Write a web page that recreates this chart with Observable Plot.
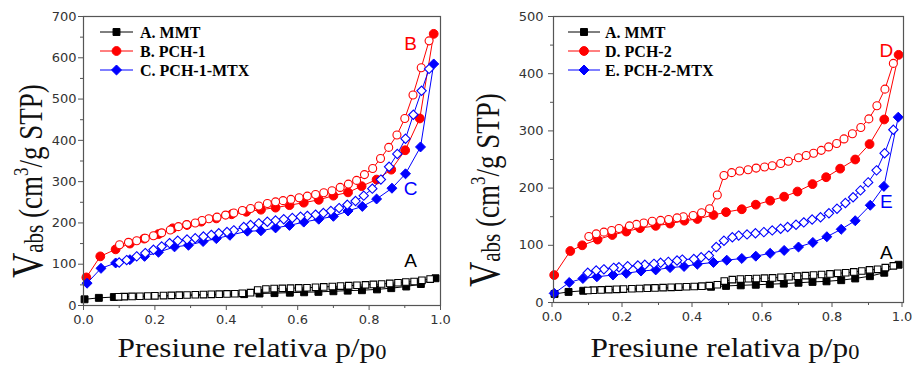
<!DOCTYPE html>
<html><head><meta charset="utf-8">
<script src="https://cdn.jsdelivr.net/npm/d3@7"></script>
<script src="https://cdn.jsdelivr.net/npm/@observablehq/plot@0.6"></script>
<style>
body{margin:0;background:#fff;}
#wrap{display:flex;width:912px;height:368px;overflow:hidden;}
#wrap svg{flex:none;}
</style></head><body><div id="wrap"></div>
<script>
// ---------- tick values ----------
const xMajorTicks = [0, 0.2, 0.4, 0.6, 0.8, 1.0];
const xMinorTicks = [0.1, 0.3, 0.5, 0.7, 0.9];
const yMajorTicksL = [0, 100, 200, 300, 400, 500, 600, 700];
const yMinorTicksL = [50, 150, 250, 350, 450, 550, 650];
const yMajorTicksR = [0, 100, 200, 300, 400, 500];
const yMinorTicksR = [50, 150, 250, 350, 450];

// ---------- A. MMT (both panels) ----------
const mmtAdsX = [0.003, 0.043, 0.085, 0.45, 0.493, 0.535, 0.578, 0.618, 0.658, 0.70, 0.74, 0.78, 0.822, 0.862, 0.904, 0.945, 0.986];
const mmtAdsY = [15, 18.5, 20.5, 27.5, 29, 30, 31, 32, 33, 34.5, 36, 37, 39, 42, 46, 52, 66];
const mmtDesX = [0.971, 0.948, 0.926, 0.903, 0.881, 0.858, 0.835, 0.812, 0.79, 0.766, 0.743, 0.72, 0.697, 0.673, 0.65, 0.626, 0.603, 0.58, 0.557, 0.534, 0.511, 0.488, 0.468, 0.445, 0.424, 0.402, 0.38, 0.358, 0.336, 0.313, 0.29, 0.268, 0.246, 0.224, 0.2, 0.18, 0.158, 0.136, 0.114, 0.098];
const mmtDesY = [64, 61, 58, 57, 55, 53.5, 52, 51, 50, 49, 48, 47, 46, 45, 44, 43, 42.5, 42, 41.5, 41, 40, 37.5, 31, 29.5, 28.5, 28, 27.5, 27, 26.5, 26, 25.5, 25, 24.5, 24, 23.5, 23, 22.5, 22, 21.5, 21];

// ---------- B. PCH-1 ----------
const bAdsX = [0.008, 0.047, 0.09, 0.13, 0.17, 0.21, 0.25, 0.29, 0.33, 0.372, 0.415, 0.456, 0.497, 0.538, 0.577, 0.617, 0.659, 0.70, 0.741, 0.779, 0.821, 0.862, 0.901, 0.942, 0.981];
const bAdsY = [68, 119, 136, 150, 162, 173, 187, 195, 203, 211, 221, 227, 232, 237, 243, 249, 256, 266, 274, 289, 305, 329, 376, 453, 658];
const bDesX = [0.968, 0.946, 0.923, 0.900, 0.878, 0.855, 0.832, 0.810, 0.787, 0.765, 0.742, 0.719, 0.696, 0.673, 0.650, 0.627, 0.604, 0.581, 0.559, 0.538, 0.515, 0.491, 0.468, 0.445, 0.421, 0.398, 0.374, 0.351, 0.332, 0.313, 0.289, 0.266, 0.243, 0.219, 0.196, 0.173, 0.149, 0.126, 0.101];
const bDesY = [641, 576, 510, 453, 413, 383, 356, 332, 317, 303, 294, 286, 278, 273, 269, 265, 261, 257, 254, 251, 247, 241, 235, 230, 224, 219, 214, 210, 206, 200, 196, 191, 183, 176, 169, 163, 157, 153, 147];

// ---------- C. PCH-1-MTX ----------
const cAdsX = [0.01, 0.049, 0.09, 0.13, 0.171, 0.21, 0.255, 0.294, 0.335, 0.372, 0.41, 0.459, 0.497, 0.538, 0.577, 0.617, 0.659, 0.70, 0.741, 0.781, 0.821, 0.864, 0.902, 0.944, 0.981];
const cAdsY = [54, 90, 103, 111, 119, 129, 142, 146, 155, 162, 170, 180, 181, 188, 194, 202, 209, 216, 229, 240, 258, 284, 319, 384, 585];
const cDesX = [0.968, 0.947, 0.924, 0.902, 0.879, 0.856, 0.833, 0.809, 0.785, 0.762, 0.739, 0.716, 0.693, 0.672, 0.65, 0.627, 0.608, 0.585, 0.561, 0.538, 0.515, 0.491, 0.468, 0.449, 0.421, 0.402, 0.379, 0.358, 0.336, 0.313, 0.29, 0.264, 0.241, 0.219, 0.196, 0.173, 0.149, 0.121, 0.1];
const cDesY = [573, 520, 462, 404, 367, 336, 305, 283, 266, 253, 244, 236, 229, 224, 220, 217, 215, 212, 209, 206, 203, 199, 195, 190, 182, 178, 175, 171, 167, 163, 160, 157, 151, 143, 135, 127, 119, 110, 104];

// ---------- D. PCH-2 ----------
const dAdsX = [0.002, 0.048, 0.082, 0.126, 0.168, 0.208, 0.247, 0.292, 0.333, 0.374, 0.411, 0.457, 0.493, 0.538, 0.578, 0.619, 0.659, 0.697, 0.74, 0.779, 0.819, 0.862, 0.903, 0.945, 0.986];
const dAdsY = [48, 90, 100, 110, 118, 124, 130, 134, 138, 143, 146, 153, 158, 163, 171, 178, 185, 194, 207, 219, 234, 250, 277, 320, 433];
const dDesX = [0.971, 0.947, 0.924, 0.901, 0.878, 0.854, 0.83, 0.809, 0.786, 0.765, 0.743, 0.722, 0.7, 0.671, 0.649, 0.625, 0.603, 0.579, 0.556, 0.532, 0.509, 0.487, 0.468, 0.446, 0.423, 0.399, 0.371, 0.353, 0.329, 0.306, 0.282, 0.258, 0.237, 0.217, 0.187, 0.166, 0.144, 0.122, 0.101];
const dDesY = [418, 373, 344, 321, 306, 295, 286, 278, 272, 266, 261, 257, 253, 247, 243, 239, 237, 235, 232, 230, 227, 222, 188, 164, 157, 152, 150, 148, 145, 143.5, 142, 139, 136.5, 134, 129.5, 126, 123, 120, 115.5];

// ---------- E. PCH-2-MTX ----------
const eAdsX = [0.002, 0.045, 0.084, 0.124, 0.17, 0.208, 0.25, 0.292, 0.333, 0.373, 0.411, 0.457, 0.495, 0.538, 0.578, 0.619, 0.659, 0.7, 0.741, 0.781, 0.822, 0.862, 0.905, 0.944, 0.985];
const eAdsY = [16, 35, 42, 45, 48, 51, 55, 57, 61, 63, 67, 70, 74, 77, 81, 86, 91, 97, 105, 115, 128, 143, 170, 203, 324];
const eDesX = [0.971, 0.946, 0.923, 0.899, 0.877, 0.856, 0.834, 0.81, 0.787, 0.763, 0.739, 0.715, 0.693, 0.669, 0.649, 0.625, 0.601, 0.577, 0.553, 0.529, 0.511, 0.487, 0.465, 0.444, 0.422, 0.401, 0.368, 0.353, 0.328, 0.306, 0.287, 0.261, 0.241, 0.212, 0.187, 0.172, 0.144, 0.122, 0.098];
const eDesY = [302, 261, 231, 210, 196, 184, 174, 164, 156, 149, 145, 140, 136, 132, 129, 126, 123, 121, 119, 117, 114, 108, 97, 82, 79, 76, 75, 73.4, 71, 69.4, 67.6, 66, 64.7, 63.5, 61.7, 60.6, 58, 56, 52];

// ---------- legend / annotation text ----------
const legendLabelsL = ["A. MMT", "B. PCH-1", "C. PCH-1-MTX"];
const legendLabelsR = ["A. MMT", "D. PCH-2", "E. PCH-2-MTX"];
const annotTextL = ["B", "C", "A"];
const annotXL = [0.916, 0.916, 0.916];
const annotYL = [634, 283, 109];
const annotTextR = ["D", "E", "A"];
const annotXR = [0.951, 0.951, 0.951];
const annotYR = [440, 175, 87];
const xTitle = "Presiune relativa p/p";

const RED = "#ff0000", BLUE = "#0000ff", BLACK = "#000000";
const mk = (xs, ys) => xs.map((x, i) => ({x, y: ys[i]}));

const symInfo = {
  square: {fill: 3.9, open: 3.7},
  circle: {fill: 4.4, open: 4.0},
  diamond2: {fill: 4.5, open: 4.2}
};

function seriesMarks(adsX, adsY, desX, desY, color, sym) {
  const ads = mk(adsX, adsY), des = mk(desX, desY);
  return [
    Plot.line(ads, {x: "x", y: "y", stroke: color, strokeWidth: 1}),
    Plot.line(des, {x: "x", y: "y", stroke: color, strokeWidth: 1}),
    Plot.dot(ads, {x: "x", y: "y", symbol: sym, r: symInfo[sym].fill, fill: color, stroke: color, strokeWidth: 1}),
    Plot.dot(des, {x: "x", y: "y", symbol: sym, r: symInfo[sym].open, fill: "white", stroke: color, strokeWidth: 1.1})
  ];
}

function annotMarks(texts, xs, ys, colors) {
  return texts.map((t, i) => Plot.text([{x: xs[i], y: ys[i], t}], {
    x: "x", y: "y", text: "t", fill: colors[i], fontSize: 19,
    fontFamily: "Liberation Sans, Arial, sans-serif"
  }));
}

function makePanel(cfg) {
  const plot = Plot.plot({
    width: 456, height: 368,
    marginLeft: cfg.ml, marginRight: cfg.mr, marginTop: 16, marginBottom: cfg.mb,
    x: {domain: [0, 1]},
    y: {domain: [0, cfg.ymax]},
    style: {background: "white", color: "#333", fontFamily: "DejaVu Sans, sans-serif", fontSize: "13px", overflow: "visible"},
    marks: [
      Plot.axisX({ticks: xMajorTicks, tickFormat: d3.format(".1f"), tickSize: 5, tickPadding: 4, label: null, stroke: "#555", textStroke: "none", dx: cfg.xdx}),
      Plot.axisX({ticks: xMinorTicks, tickFormat: () => "", tickSize: 3, label: null, stroke: "#555"}),
      Plot.axisY({ticks: cfg.yMajor, tickSize: 5, tickPadding: cfg.tp, label: null, stroke: "#555"}),
      Plot.axisY({ticks: cfg.yMinor, tickFormat: () => "", tickSize: 3, label: null, stroke: "#555"}),
      ...cfg.series.flatMap(s => seriesMarks(...s)),
      ...annotMarks(cfg.annotText, cfg.annotX, cfg.annotY, cfg.annotColors),
      Plot.frame({stroke: "#555", strokeWidth: 1.2})
    ]
  });
  document.getElementById("wrap").appendChild(plot);
  const svg = d3.select(plot);

  // y title
  const yt = svg.append("text")
    .attr("transform", `translate(${cfg.ytx},${cfg.yty}) rotate(-90) scale(1,1.25)`)
    .attr("font-family", "Liberation Serif, 'Times New Roman', serif")
    .attr("fill", "#111").attr("text-anchor", "start");
  yt.append("tspan").attr("font-size", 35).text("V");
  yt.append("tspan").attr("font-size", 21).attr("dy", 1).text("abs");
  yt.append("tspan").attr("font-size", 27).attr("dy", -1).text(" (cm");
  yt.append("tspan").attr("font-size", 17).attr("dy", -11).text("3");
  yt.append("tspan").attr("font-size", 27).attr("dy", 11).text("/g STP)");

  // x title
  const xt = svg.append("text")
    .attr("transform", `translate(${cfg.xtx},357) scale(1.12,1)`)
    .attr("font-family", "Liberation Serif, 'Times New Roman', serif")
    .attr("fill", "#111").attr("text-anchor", "middle");
  xt.append("tspan").attr("font-size", 28).text(xTitle);
  xt.append("tspan").attr("font-size", 20).attr("dy", 2).text("0");

  // legend
  const lg = svg.append("g").attr("text-anchor", "start");
  cfg.legend.forEach((L, i) => {
    const cy = cfg.legY[i];
    lg.append("line").attr("x1", cfg.legX0).attr("x2", cfg.legX1).attr("y1", cy).attr("y2", cy)
      .attr("stroke", L.color).attr("stroke-width", 1);
    const sym = L.sym === "square" ? d3.symbolSquare : L.sym === "circle" ? d3.symbolCircle : d3.symbolDiamond2;
    const r = symInfo[L.sym].fill;
    lg.append("path").attr("d", d3.symbol(sym, Math.PI * r * r)())
      .attr("transform", `translate(${(cfg.legX0 + cfg.legX1) / 2},${cy})`)
      .attr("fill", L.color).attr("stroke", L.color);
    lg.append("text").attr("x", cfg.legTx).attr("y", cy + 5.5)
      .attr("text-anchor", "start")
      .attr("font-family", "Liberation Serif, 'Times New Roman', serif")
      .attr("font-weight", "bold").attr("font-size", 16).attr("fill", "#000")
      .text(L.label);
  });
}

makePanel({
  ml: 83, mr: 16, mb: 63, ymax: 700, tp: 2, xdx: 0,
  yMajor: yMajorTicksL, yMinor: yMinorTicksL,
  series: [
    [mmtAdsX, mmtAdsY, mmtDesX, mmtDesY, BLACK, "square"],
    [bAdsX, bAdsY, bDesX, bDesY, RED, "circle"],
    [cAdsX, cAdsY, cDesX, cDesY, BLUE, "diamond2"]
  ],
  annotText: annotTextL, annotX: annotXL, annotY: annotYL, annotColors: [RED, BLUE, BLACK],
  ytx: 42, yty: 278, xtx: 252,
  legend: [
    {label: legendLabelsL[0], color: BLACK, sym: "square"},
    {label: legendLabelsL[1], color: RED, sym: "circle"},
    {label: legendLabelsL[2], color: BLUE, sym: "diamond2"}
  ],
  legX0: 100, legX1: 133, legTx: 140, legY: [32, 51, 70]
});

makePanel({
  ml: 97, mr: 9, mb: 66, ymax: 500, tp: 5, xdx: -1.5,
  yMajor: yMajorTicksR, yMinor: yMinorTicksR,
  series: [
    [mmtAdsX, mmtAdsY, mmtDesX, mmtDesY, BLACK, "square"],
    [dAdsX, dAdsY, dDesX, dDesY, RED, "circle"],
    [eAdsX, eAdsY, eDesX, eDesY, BLUE, "diamond2"]
  ],
  annotText: annotTextR, annotX: annotXR, annotY: annotYR, annotColors: [RED, BLUE, BLACK],
  ytx: 43, yty: 287, xtx: 269,
  legend: [
    {label: legendLabelsR[0], color: BLACK, sym: "square"},
    {label: legendLabelsR[1], color: RED, sym: "circle"},
    {label: legendLabelsR[2], color: BLUE, sym: "diamond2"}
  ],
  legX0: 112, legX1: 144, legTx: 149, legY: [32, 51, 70]
});
</script></body></html>
